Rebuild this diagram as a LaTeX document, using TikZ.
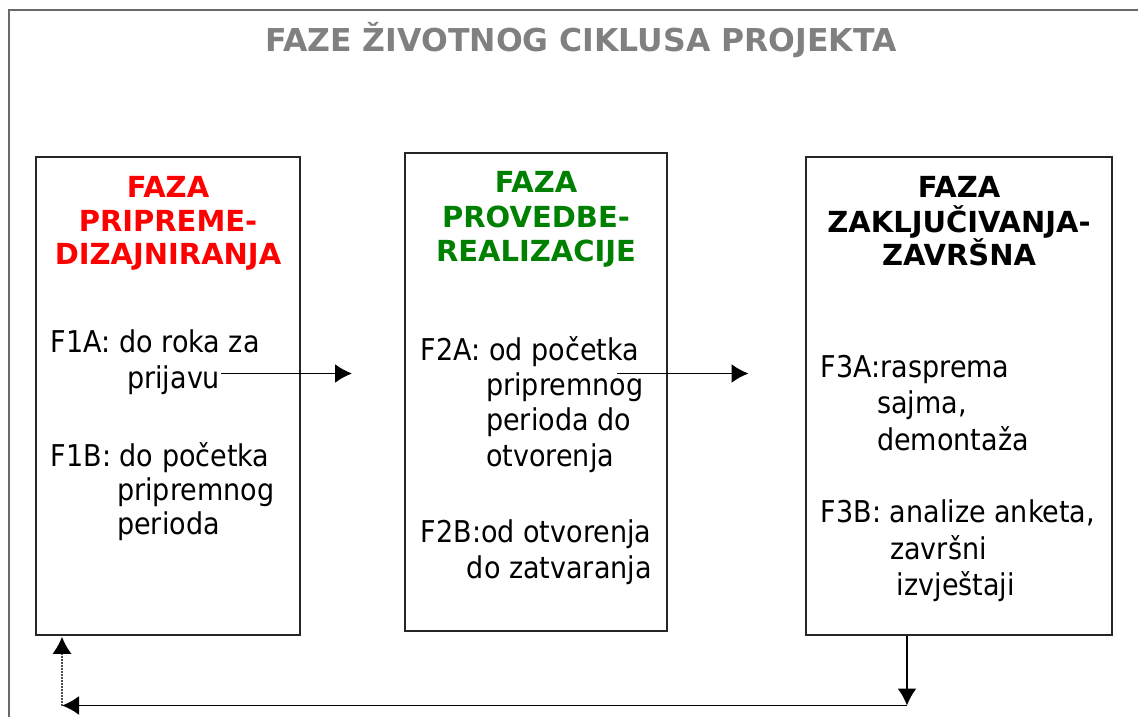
\documentclass[tikz,border=0pt]{standalone}
\usepackage{fontspec}
\setmainfont{DejaVu Sans}
\newfontfamily\bodyfont{DejaVu Sans}[FakeStretch=0.9]
\usetikzlibrary{arrows.meta}
\definecolor{titlegray}{HTML}{808080}
\definecolor{framegray}{HTML}{6A6A6A}
\definecolor{headred}{HTML}{FF0000}
\definecolor{headgreen}{HTML}{008000}
\begin{document}
\begin{tikzpicture}[x=1pt,y=-1pt,
  phase/.style={draw=black!85, line width=1.5pt, inner sep=0, minimum height=478pt},
  head/.style={anchor=base, inner sep=0, font=\bfseries\fontsize{29}{34}\selectfont},
  body/.style={anchor=base west, inner sep=0, font=\bodyfont\fontsize{30}{36}\selectfont},
  arr/.style={line width=1.8pt, -{Latex[length=17pt,width=19pt]}},
  dotarr/.style={line width=1.6pt, black!70, dash pattern=on 1.5pt off 1.5pt, -{Latex[length=17pt,width=19pt,black]}}
]
\useasboundingbox (0,0) rectangle (1138,717);
% outer frame
\draw[framegray, line width=2pt] (9,717) -- (9,10.5) -- (1138,10.5);
% title
\node[anchor=base, inner sep=0, font=\bfseries\fontsize{31.5}{36}\selectfont, text=titlegray] (title) at (581,52) {FAZE ŽIVOTNOG CIKLUSA PROJEKTA};
% boxes
\node[phase, minimum width=264pt] (b1) at (168,396) {};
\node[phase, minimum width=262pt] (b2) at (536,392) {};
\node[phase, minimum width=306pt] (b3) at (959,396) {};
% headings
\node[head, text=headred] (h1a) at (168,197) {FAZA};
\node[head, text=headred] (h1b) at (168,231.5) {PRIPREME-};
\node[head, text=headred] (h1c) at (168,264) {DIZAJNIRANJA};
\node[head, text=headgreen] (h2a) at (536,192) {FAZA};
\node[head, text=headgreen] (h2b) at (536,227) {PROVEDBE-};
\node[head, text=headgreen] (h2c) at (536,261) {REALIZACIJE};
\node[head] (h3a) at (959,197) {FAZA};
\node[head] (h3b) at (959,232) {ZAKLJUČIVANJA-};
\node[head] (h3c) at (959,265) {ZAVRŠNA};
% box 1 text
\node[body] (f1a) at (50.7,352) {F1A: do roka za};
\node[body] (f1a2) at (127,388) {prijavu};
\node[body] (f1b) at (50.7,466) {F1B: do početka};
\node[body] (f1b2) at (117,500) {pripremnog};
\node[body] (f1b3) at (117,534) {perioda};
% box 2 text
\node[body] (f2a) at (420.7,360) {F2A: od početka};
\node[body] (f2a2) at (486,395) {pripremnog};
\node[body] (f2a3) at (486,430) {perioda do};
\node[body] (f2a4) at (486,466) {otvorenja};
\node[body] (f2b) at (420.7,542) {F2B:od otvorenja};
\node[body] (f2b2) at (466.7,578) {do zatvaranja};
% box 3 text
\node[body] (f3a) at (820.7,377) {F3A:rasprema};
\node[body] (f3a2) at (877,413) {sajma,};
\node[body] (f3a3) at (877,450) {demontaža};
\node[body] (f3b) at (820.7,522) {F3B: analize anketa,};
\node[body] (f3b2) at (890,559) {završni};
\node[body] (f3b3) at (896.7,595) {izvještaji};
% connectors
\coordinate (a1e) at (352,373.5);
\coordinate (a2s) at (617,373.5);
\coordinate (a2e) at (748.5,373.5);
\coordinate (c1) at (907,705.5);
\coordinate (c2) at (62,705.5);
\draw[arr] ([xshift=1pt]f1a2.east |- a1e) -- (a1e);
\draw[arr] (a2s) -- (a2e);
\draw[arr] (b3.south -| c1) -- (c1);
\draw[arr] (c1) -- (c2);
\draw[dotarr] (c2) -- ([yshift=-1pt]b1.south -| c2);
\end{tikzpicture}
\end{document}
